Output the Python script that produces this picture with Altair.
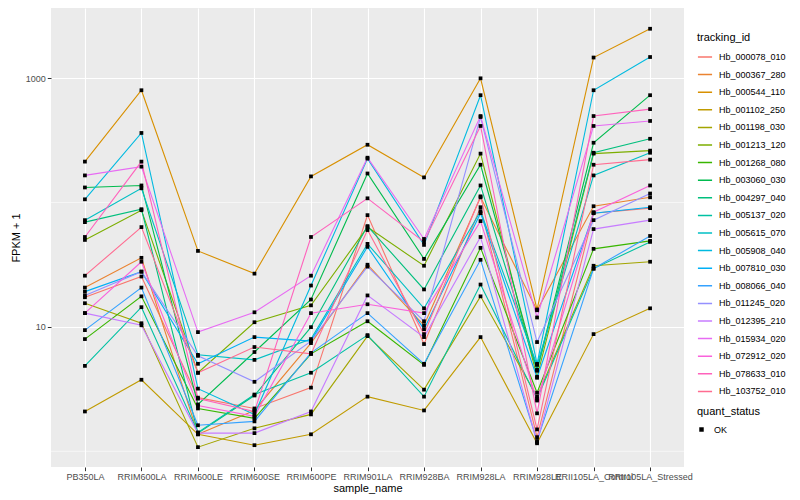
import altair as alt
import pandas as pd

samples = ["PB350LA", "RRIM600LA", "RRIM600LE", "RRIM600SE", "RRIM600PE", "RRIM901LA",
           "RRIM928BA", "RRIM928LA", "RRIM928LE", "RRII105LA_Control", "RRII105LA_Stressed"]

ids = ["Hb_000078_010", "Hb_000367_280", "Hb_000544_110", "Hb_001102_250", "Hb_001198_030",
       "Hb_001213_120", "Hb_001268_080", "Hb_003060_030", "Hb_004297_040", "Hb_005137_020",
       "Hb_005615_070", "Hb_005908_040", "Hb_007810_030", "Hb_008066_040", "Hb_011245_020",
       "Hb_012395_210", "Hb_015934_020", "Hb_072912_020", "Hb_078633_010", "Hb_103752_010"]

colors = ["#F8766D", "#EA8331", "#D89000", "#C09B00", "#A3A500", "#7CAE00", "#39B600", "#00BB4E",
          "#00BF7D", "#00C1A3", "#00BFC4", "#00BAE0", "#00B0F6", "#35A2FF", "#9590FF", "#C77CFF",
          "#E76BF3", "#FA62DB", "#FF62BC", "#FF6C91"]

# FPKM + 1 per sample (order of `samples`)
hb_000078_010 = [17.3, 25.4, 2.70, 2.21, 3.25, 79.1, 7.28, 91.6, 1.30, 82.0, 90.0]
hb_000367_280 = [20.7, 35.9, 1.37, 2.13, 7.41, 31.6, 10.3, 110, 13.6, 93.3, 110]
hb_000544_110 = [213, 798, 40.8, 26.8, 162, 291, 159, 995, 13.8, 1462, 2490]
hb_001102_250 = [2.09, 3.76, 1.37, 1.12, 1.37, 2.75, 2.13, 8.28, 1.16, 8.75, 14.1]
hb_001198_030 = [15.5, 10.7, 1.08, 1.53, 1.98, 8.43, 3.13, 17.6, 2.75, 31.0, 33.4]
hb_001213_120 = [50.0, 86.7, 4.28, 10.9, 14.9, 63.4, 31.0, 247, 3.97, 247, 261]
hb_001268_080 = [7.98, 17.6, 2.21, 1.84, 6.07, 11.1, 4.95, 43.2, 2.96, 42.4, 49.1]
hb_003060_030 = [132, 137, 2.38, 6.28, 16.6, 171, 35.2, 201, 4.52, 302, 728]
hb_004297_040 = [69.5, 88.3, 1.40, 2.81, 9.95, 64.6, 20.0, 137, 4.44, 251, 325]
hb_005137_020 = [4.86, 14.4, 1.42, 2.86, 4.28, 8.59, 2.75, 21.9, 2.65, 29.4, 48.2]
hb_005615_070 = [72.1, 130, 5.96, 5.43, 7.98, 46.5, 14.1, 85.1, 4.95, 165, 251]
hb_005908_040 = [106, 362, 3.19, 1.98, 21.5, 225, 45.6, 728, 5.05, 798, 1476]
hb_007810_030 = [19.2, 27.8, 5.05, 8.28, 7.69, 44.0, 9.59, 82.0, 3.90, 82.0, 91.6]
hb_008066_040 = [9.42, 20.7, 1.62, 1.74, 6.18, 12.9, 5.05, 34.6, 1.21, 29.4, 53.8]
hb_011245_020 = [17.9, 27.8, 5.85, 3.62, 7.69, 30.5, 11.1, 486, 7.55, 72.1, 118]
hb_012395_210 = [12.9, 10.3, 1.40, 1.40, 2.09, 17.9, 8.28, 52.8, 1.18, 61.1, 72.1]
hb_015934_020 = [165, 194, 9.08, 13.1, 25.8, 229, 50.9, 495, 11.9, 412, 452]
hb_072912_020 = [12.9, 33.4, 2.33, 1.91, 12.9, 15.2, 12.9, 70.8, 2.56, 83.6, 137]
hb_078633_010 = [52.8, 213, 2.65, 2.09, 52.8, 108, 48.2, 412, 2.02, 495, 563]
hb_103752_010 = [25.8, 63.4, 4.28, 6.89, 6.07, 60.0, 8.75, 112, 1.50, 201, 221]

series = [hb_000078_010, hb_000367_280, hb_000544_110, hb_001102_250, hb_001198_030,
          hb_001213_120, hb_001268_080, hb_003060_030, hb_004297_040, hb_005137_020,
          hb_005615_070, hb_005908_040, hb_007810_030, hb_008066_040, hb_011245_020,
          hb_012395_210, hb_015934_020, hb_072912_020, hb_078633_010, hb_103752_010]

minor_breaks = [1, 100]
major_breaks = [10, 1000]

rows = []
for tid, vals in zip(ids, series):
    for i, (s, v) in enumerate(zip(samples, vals)):
        rows.append({"tracking_id": tid, "sample_name": s, "idx": i,
                     "fpkm1": v, "quant_status": "OK"})
df = pd.DataFrame(rows)
minor_df = pd.DataFrame({"fpkm1": minor_breaks})

yscale = alt.Scale(type="log", domain=[0.748, 3656], nice=False)

x_enc = alt.X("sample_name:N", sort=samples,
              scale=alt.Scale(type="point", padding=0.6),
              axis=alt.Axis(title="sample_name", labelAngle=0, labelOverlap=False,
                            grid=True, gridColor="white", gridWidth=1.1,
                            tickColor="#333333", tickSize=3.7, domain=False,
                            labelColor="#4D4D4D", labelFontSize=9, labelPadding=2,
                            titleFontSize=11, titleFontWeight="normal",
                            titleColor="black", titlePadding=1))
y_enc = alt.Y("fpkm1:Q", scale=yscale,
              axis=alt.Axis(title="FPKM + 1", values=major_breaks, format="d",
                            grid=True, gridColor="white", gridWidth=1.1,
                            tickColor="#333333", tickSize=3.7, domain=False,
                            labelColor="#4D4D4D", labelFontSize=9, labelPadding=2,
                            titleFontSize=11, titleFontWeight="normal",
                            titleColor="black", titlePadding=4))

minor = alt.Chart(minor_df).mark_rule(color="white", strokeWidth=0.55).encode(
    y=alt.Y("fpkm1:Q", scale=yscale, title="FPKM + 1"))

lines = alt.Chart(df).mark_line(strokeWidth=1.1).encode(
    x=x_enc, y=y_enc,
    order=alt.Order("idx:Q"),
    color=alt.Color("tracking_id:N",
                    scale=alt.Scale(domain=ids, range=colors),
                    legend=alt.Legend(title="tracking_id", symbolType="stroke",
                                      symbolStrokeWidth=1.5, symbolSize=200,
                                      labelFontSize=9, labelColor="black",
                                      titleFontSize=11, titleFontWeight="normal",
                                      titleColor="black", rowPadding=5.6,
                                      clipHeight=12,
                                      titlePadding=8, labelOffset=6,
                                      orient="none", legendX=646, legendY=24)))

points = alt.Chart(df).mark_point(shape="square", filled=True, size=14, opacity=1).encode(
    x=x_enc, y=y_enc,
    fill=alt.Fill("quant_status:N", scale=alt.Scale(range=["black"]),
                  legend=alt.Legend(title="quant_status", symbolType="square",
                                    symbolSize=20, labelFontSize=9, labelColor="black",
                                    titleFontSize=11, titleFontWeight="normal",
                                    titleColor="black", titlePadding=8,
                                    labelOffset=8,
                                    orient="none", legendX=646, legendY=398)))

chart = alt.layer(minor, lines, points).properties(
    width=633, height=459,
    padding={"left": 2, "top": 0, "right": 0, "bottom": 0}
).configure(font="Liberation Sans").configure_view(
    fill="#EBEBEB", strokeWidth=0
).configure_legend(padding=0)

chart.save("out.html", embed_options={"renderer": "svg", "actions": False})
